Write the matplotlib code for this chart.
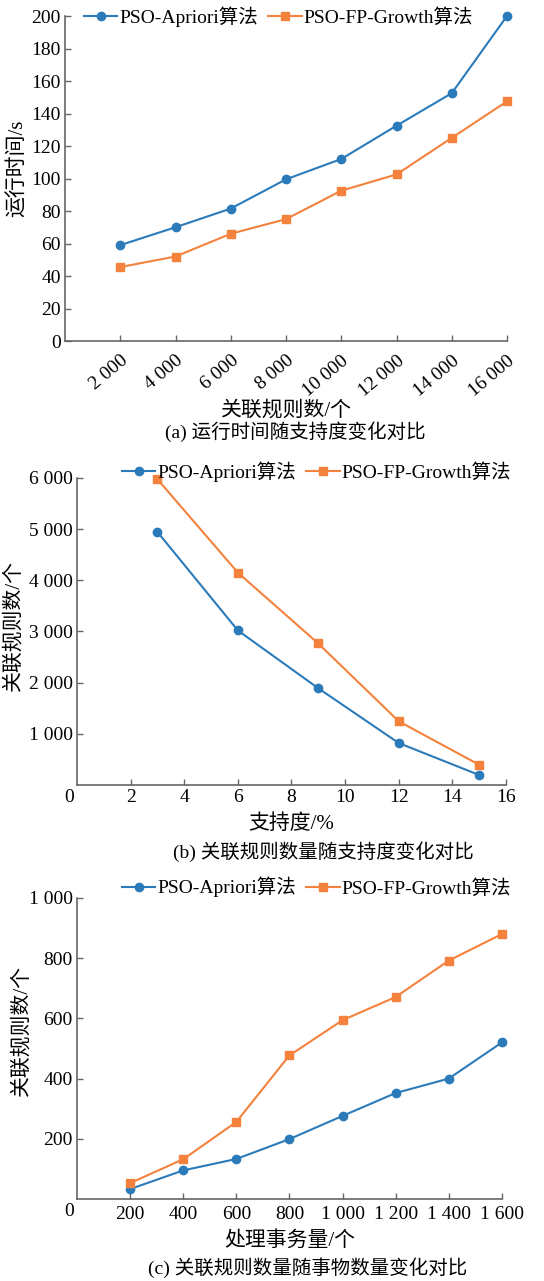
import matplotlib
matplotlib.use("Agg")
import matplotlib.pyplot as plt

plt.rcParams['font.family'] = ['Liberation Serif', 'Noto Sans CJK SC', 'DejaVu Sans']
plt.rcParams['font.size'] = 14

# (a) 运行时间
rules_n = [2000, 4000, 6000, 8000, 10000, 12000, 14000, 16000]
time_apriori = [59, 70, 81.5, 99.5, 112, 132.5, 152.5, 200]
time_fp = [45.5, 52, 66, 75, 92.5, 102.5, 125, 147.5]

# (b) 支持度
support = [3, 6, 9, 12, 15]
rules_apriori_b = [4945, 3020, 1890, 820, 195]
rules_fp_b = [5975, 4150, 2765, 1245, 395]

# (c) 事务量
trans_n = [200, 400, 600, 800, 1000, 1200, 1400, 1600]
rules_apriori_c = [33, 95, 133, 199, 276, 352, 400, 520]
rules_fp_c = [53, 132, 256, 477, 594, 671, 792, 880]

BLUE = '#2b7bba'
ORANGE = '#f4823d'
SPINE = '#666666'
names = ['PSO-Apriori算法', 'PSO-FP-Growth算法']


def fmt(v):
    return '{:,}'.format(int(v)).replace(',', ' ')


def style(ax):
    for s in ['top', 'right']:
        ax.spines[s].set_visible(False)
    for s in ['left', 'bottom']:
        ax.spines[s].set_color(SPINE)
        ax.spines[s].set_linewidth(1.2)
    ax.tick_params(direction='in', length=4, width=1, color=SPINE, labelsize=14, pad=3)


def draw(ax, x, y1, y2):
    ax.plot(x, y1, '-o', color=BLUE, lw=1.5, ms=6, label=names[0], clip_on=False, zorder=3)
    ax.plot(x, y2, '-s', color=ORANGE, lw=1.5, ms=6, label=names[1], clip_on=False, zorder=3)


def leg(ax, x, y):
    ax.legend(loc='upper left', bbox_to_anchor=(x, y), ncol=2, frameon=False,
              borderpad=0, borderaxespad=0, handlelength=1.7, handletextpad=0.1,
              columnspacing=0.55, fontsize=14)


fig = plt.figure(figsize=(5.44, 12.81), dpi=100)

# ---- (a)
ax1 = fig.add_axes([0.1195, 0.7338, 0.8125, 0.2537])
draw(ax1, rules_n, time_apriori, time_fp)
ax1.set_xlim(0, 16000)
ax1.set_ylim(0, 200)
ax1.set_yticks(range(0, 201, 20))
ax1.set_xticks(rules_n)
ax1.set_xticklabels([fmt(v) for v in rules_n], rotation=40, ha='right', va='top',
                    rotation_mode='anchor')
style(ax1)
ax1.tick_params(axis='x', pad=8)
ax1.set_ylabel('运行时间/s', fontsize=15)
ax1.yaxis.set_label_coords(-0.083, 0.53)
ax1.set_xlabel('关联规则数/个', fontsize=15, labelpad=1)
leg(ax1, 0.043, 1.03)
fig.text(0.542, 1 - 432 / 1281, '(a) 运行时间随支持度变化对比', ha='center', va='center', fontsize=14)

# ---- (b)
ax2 = fig.add_axes([0.1415, 0.3872, 0.7886, 0.2397])
draw(ax2, support, rules_apriori_b, rules_fp_b)
ax2.set_xlim(0, 16)
ax2.set_ylim(0, 6000)
ax2.set_xticks(range(2, 17, 2))
ax2.set_yticks(range(1000, 6001, 1000))
ax2.set_yticklabels([fmt(v) for v in range(1000, 6001, 1000)])
style(ax2)
ax2.annotate('0', xy=(0, 0), xycoords='axes fraction', xytext=(-2, -3),
             textcoords='offset points', ha='right', va='top', fontsize=14)
ax2.set_ylabel('关联规则数/个', fontsize=15)
ax2.yaxis.set_label_coords(-0.125, 0.52)
ax2.set_xlabel('支持度/%', fontsize=15, labelpad=6)
leg(ax2, 0.105, 1.055)
fig.text(0.594, 1 - 852 / 1281, '(b) 关联规则数量随支持度变化对比', ha='center', va='center', fontsize=14)

# ---- (c)
ax3 = fig.add_axes([0.1415, 0.0640, 0.781, 0.2350])
draw(ax3, trans_n, rules_apriori_c, rules_fp_c)
ax3.set_xlim(0, 1600)
ax3.set_ylim(0, 1000)
ax3.set_xticks(trans_n)
ax3.set_xticklabels([fmt(v) for v in trans_n])
ax3.set_yticks(range(200, 1001, 200))
ax3.set_yticklabels([fmt(v) for v in range(200, 1001, 200)])
style(ax3)
ax3.tick_params(axis='x', pad=5)
ax3.annotate('0', xy=(0, 0), xycoords='axes fraction', xytext=(-2, -3),
             textcoords='offset points', ha='right', va='top', fontsize=14)
ax3.set_ylabel('关联规则数/个', fontsize=15)
ax3.yaxis.set_label_coords(-0.108, 0.56)
ax3.set_xlabel('处理事务量/个', fontsize=15, labelpad=6)
leg(ax3, 0.106, 1.07)
fig.text(0.565, 1 - 1268 / 1281, '(c) 关联规则数量随事物数量变化对比', ha='center', va='center', fontsize=14)

fig.savefig('out.png', dpi=100)
